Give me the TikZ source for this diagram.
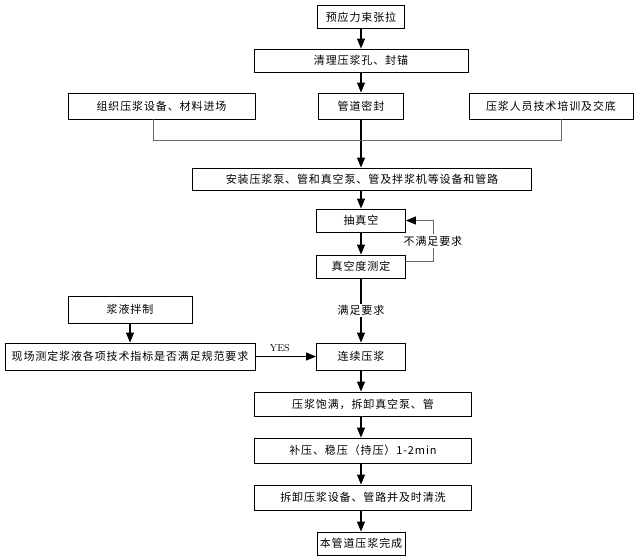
\documentclass[tikz,border=0pt]{standalone}
\usepackage{fontspec}
\newfontfamily\cjk[LetterSpace=8]{Noto Sans CJK SC}
\usetikzlibrary{arrows.meta, calc}

\begin{document}
\begin{tikzpicture}[x=1pt, y=-1pt, font=\cjk\fontsize{11pt}{13pt}\selectfont,
    >={Triangle[length=10pt,width=8pt,color=black]}]
    \tikzstyle{proc} = [rectangle, draw=black, line width=0.9pt, minimum height=23pt,
      inner sep=2pt, text centered, fill=white]
    \tikzstyle{elabel} = [fill=white, inner sep=1.5pt]
    \useasboundingbox (0,0) rectangle (635,555);

    % Top of the column and the three parallel jobs
    \node (tension)  [proc, minimum width=87pt]  at (361,17)    {预应力束张拉};
    \node (clean)    [proc, minimum width=214pt] at (361,60.5)  {清理压浆孔、封锚};
    \node (organize) [proc, minimum width=187pt, minimum height=26pt] at (161.5,106) {组织压浆设备、材料进场};
    \node (seal)     [proc, minimum width=85pt,  minimum height=26pt] at (361,106)   {管道密封};
    \node (training) [proc, minimum width=164pt, minimum height=26pt] at (551,106)   {压浆人员技术培训及交底};
    \node (install)  [proc, minimum width=339pt, minimum height=22pt] at (362,179)   {安装压浆泵、管和真空泵、管及拌浆机等设备和管路};

    % Vacuum loop
    \node (vacuum)   [proc, minimum width=89pt]  at (361,220.5) {抽真空};
    \node (measure)  [proc, minimum width=89pt]  at (361,266.5) {真空度测定};

    % Grout mixing branch
    \node (mixing)   [proc, minimum width=124pt, minimum height=27pt] at (130,309.5) {浆液拌制};
    \node (test)     [proc, minimum width=250pt, minimum height=27pt] at (130,356.5) {现场测定浆液各项技术指标是否满足规范要求};
    \node (grouting) [proc, minimum width=89pt,  minimum height=27pt] at (361,356.5) {连续压浆};

    % Bottom of the column
    \node (full)     [proc, minimum width=217pt, minimum height=24pt] at (363,404)   {压浆饱满，拆卸真空泵、管};
    \node (hold)     [proc, minimum width=217pt, minimum height=25pt] at (363,450.5) {补压、稳压（持压）1-2min};
    \node (remove)   [proc, minimum width=217pt, minimum height=25pt] at (363,497.5) {拆卸压浆设备、管路并及时清洗};
    \node (done)     [proc, minimum width=88pt]  at (361,543.5) {本管道压浆完成};

    \coordinate (join) at (seal.south |- 0,140);

    % Column arrows
    \draw [->, line width=1.1pt] (tension.south) -- (clean.north);
    \draw [->, line width=1.1pt] (clean.south) -- (seal.north);
    \draw [->, line width=1.1pt] (seal.south) -- (join) -- (install.north -| join);
    \draw [->, line width=1.1pt] (install.south -| join) -- (vacuum.north);
    \draw [->, line width=1.1pt] (vacuum.south) -- (measure.north);

    % Side jobs join the column
    \draw [line width=0.9pt, black!60] ([xshift=-8pt]organize.south) |- (join);
    \draw [line width=0.9pt, black!60] ([xshift=10pt]training.south) |- (join);

    % Vacuum not reached: back to pumping
    \draw [->, line width=0.9pt, black!60] ([yshift=5pt]measure.east) -- ++(27,0)
      |- (vacuum.east)
      node[pos=0.25, elabel, text=black] {不满足要求};

    % Vacuum reached
    \draw [->, line width=1.1pt] (measure.south) -- (grouting.north)
      node[midway, elabel] {满足要求};

    % Grout checks
    \draw [->, line width=1.1pt] (mixing.south) -- (test.north);
    \draw [->, line width=1.1pt] (test.east) -- (grouting.west)
      node[midway, above=1pt, xshift=-6pt, font=\normalfont\fontsize{10pt}{12pt}\selectfont] {YES};

    \draw [->, line width=1.1pt] (grouting.south) -- (full.north -| grouting.south);
    \draw [->, line width=1.1pt] (full.south -| grouting.south) -- (hold.north -| grouting.south);
    \draw [->, line width=1.1pt] (hold.south -| grouting.south) -- (remove.north -| grouting.south);
    \draw [->, line width=1.1pt] (remove.south -| grouting.south) -- (done.north);
\end{tikzpicture}
\end{document}
